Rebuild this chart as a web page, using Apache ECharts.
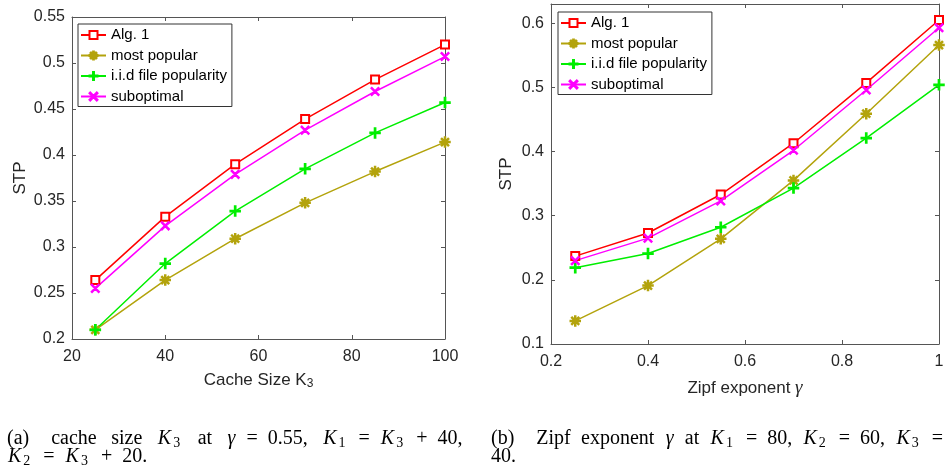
<!DOCTYPE html>
<html>
<head>
<meta charset="utf-8">
<script src="https://cdn.jsdelivr.net/npm/echarts@6/dist/echarts.min.js"></script>
<style>
  html, body { margin: 0; padding: 0; background: #fff; }
  #main { width: 948px; height: 467px; }
</style>
</head>
<body>
<div id="main"></div>
<script>
// (a) STP vs cache size K3
var cacheSize = [25, 40, 55, 70, 85, 100];
var algA     = [0.264, 0.333, 0.390, 0.439, 0.482, 0.520];
var popularA = [0.210, 0.264, 0.309, 0.348, 0.382, 0.414];
var iidA     = [0.210, 0.282, 0.339, 0.385, 0.424, 0.457];
var subA     = [0.255, 0.323, 0.379, 0.427, 0.469, 0.507];

// (b) STP vs Zipf exponent
var zipf     = [0.25, 0.4, 0.55, 0.7, 0.85, 1];
var algB     = [0.237, 0.273, 0.333, 0.413, 0.507, 0.605];
var popularB = [0.136, 0.191, 0.264, 0.355, 0.459, 0.566];
var iidB     = [0.219, 0.241, 0.282, 0.343, 0.421, 0.504];
var subB     = [0.230, 0.265, 0.323, 0.402, 0.496, 0.593];

var names = ['Alg. 1', 'most popular', 'i.i.d file popularity', 'suboptimal'];

var sans = 'Liberation Sans, Arial, sans-serif';
var serif = 'Liberation Serif, Times New Roman, serif';
var axisCol = '#555';
var txtCol = '#262626';

// marker shapes (MATLAB style)
var plusPath = 'path://M44,0L56,0L56,100L44,100ZM0,44L100,44L100,56L0,56Z';
var crossPath = 'path://M9,0L100,91L91,100L0,9ZM91,0L100,9L9,100L0,91Z';
var starPath = 'path://M45,0L55,0L55,100L45,100ZM0,45L100,45L100,55L0,55Z' +
  'M19,12L88,81L81,88L12,19ZM81,12L88,19L19,88L12,81Z';

var styles = [
  { color: '#ff0000', symbol: 'emptyRect', size: 8 },
  { color: '#b3a30c', symbol: starPath, size: 10 },
  { color: '#00ee00', symbol: plusPath, size: 10 },
  { color: '#ff00ff', symbol: crossPath, size: 8 }
];

function pairs(xs, ys) {
  return xs.map(function (x, i) { return [x, ys[i]]; });
}

function makeSeries(xs, list, axisIdx) {
  return list.map(function (ys, k) {
    var st = styles[k];
    return {
      name: names[k],
      type: 'line',
      xAxisIndex: axisIdx,
      yAxisIndex: axisIdx,
      data: pairs(xs, ys),
      symbol: st.symbol,
      symbolSize: st.size,
      showAllSymbol: true,
      lineStyle: { color: st.color, width: 1.5 },
      itemStyle: { color: st.color, borderColor: st.color, borderWidth: 1.5 }
    };
  });
}

function boxAxis(gridIndex, position, min, max, interval) {
  return {
    type: 'value',
    gridIndex: gridIndex,
    position: position,
    min: min,
    max: max,
    interval: interval,
    axisLine: { show: true, onZero: false, lineStyle: { color: axisCol, width: 1 } },
    axisTick: { show: true, inside: true, length: 4, lineStyle: { color: axisCol } },
    axisLabel: { show: false },
    splitLine: { show: false }
  };
}

function mainAxis(gridIndex, position, min, max, interval, extra) {
  var a = boxAxis(gridIndex, position, min, max, interval);
  a.axisLabel = { show: true, fontFamily: sans, fontSize: 16, color: txtCol, margin: position === 'bottom' ? 10 : 7 };
  a.nameLocation = 'middle';
  a.nameTextStyle = { fontFamily: sans, fontSize: 17, color: txtCol };
  for (var k in extra) a[k] = extra[k];
  return a;
}

function legendFor(left, top) {
  return {
    orient: 'vertical',
    left: left,
    top: top,
    data: names,
    itemWidth: 25,
    itemHeight: 10,
    itemGap: 5.5,
    padding: [3.5, 5, 2.5, 2],
    backgroundColor: '#fff',
    borderColor: '#333',
    borderWidth: 1,
    borderRadius: 0,
    selectedMode: false,
    textStyle: { fontFamily: sans, fontSize: 15, color: '#000' }
  };
}

// caption styles: italic math K, subscripts, spaced operators, stretched spaces
var capRich = {
  k: { fontFamily: serif, fontStyle: 'italic', fontSize: 20, lineHeight: 22, padding: [0, 2, 0, 1] },
  g: { fontFamily: serif, fontStyle: 'italic', fontSize: 20, lineHeight: 22, padding: [0, 1, 0, 1] },
  s: { fontFamily: serif, fontSize: 14, lineHeight: 12, verticalAlign: 'bottom', padding: [0, 3, 0, 0] },
  o: { fontFamily: serif, fontSize: 20, lineHeight: 22, padding: [0, 10, 0, 10] },
  q: { width: 22 },
  wa: { width: 14.5 },
  wb: { width: 10.3 }
};

function caption(x, y, text) {
  return {
    type: 'text',
    x: x,
    y: y,
    style: {
      text: text,
      fontFamily: serif,
      fontSize: 20,
      lineHeight: 22,
      fill: '#000',
      textVerticalAlign: 'middle',
      rich: capRich
    }
  };
}

var chart = echarts.init(document.getElementById('main'), null, { renderer: 'canvas' });

chart.setOption({
  animation: false,
  backgroundColor: '#fff',
  grid: [
    { left: 72, top: 17, width: 373, height: 322 },
    { left: 551, top: 4, width: 388, height: 340 }
  ],
  xAxis: [
    mainAxis(0, 'bottom', 20, 100, 20, {
      name: 'Cache Size K{s|3}', nameGap: 31,
      nameTextStyle: { fontFamily: sans, fontSize: 17, color: txtCol, lineHeight: 20,
        rich: { s: { fontFamily: sans, fontSize: 12, lineHeight: 12, verticalAlign: 'bottom', color: txtCol } } }
    }),
    boxAxis(0, 'top', 20, 100, 20),
    mainAxis(1, 'bottom', 0.2, 1, 0.2, {
      name: 'Zipf exponent {g|γ}', nameGap: 34,
      nameTextStyle: { fontFamily: sans, fontSize: 17, color: txtCol, lineHeight: 20,
        rich: { g: { fontFamily: serif, fontStyle: 'italic', fontSize: 19, lineHeight: 20, color: txtCol } } }
    }),
    boxAxis(1, 'top', 0.2, 1, 0.2)
  ],
  yAxis: [
    mainAxis(0, 'left', 0.2, 0.55, 0.05, { name: 'STP', nameGap: 43, nameRotate: 90 }),
    boxAxis(0, 'right', 0.2, 0.55, 0.05),
    mainAxis(1, 'left', 0.1, 0.63, 0.1, { name: 'STP', nameGap: 36, nameRotate: 90 }),
    boxAxis(1, 'right', 0.1, 0.63, 0.1)
  ],
  legend: [legendFor(78, 24), legendFor(558, 12)],
  series: makeSeries(cacheSize, [algA, popularA, iidA, subA], 0)
    .concat(makeSeries(zipf, [algB, popularB, iidB, subB], 2)),
  graphic: [
    caption(7, 439, '(a){q| }cache{wa| }size{wa| }{k|K}{s|3}{wa| }at{wa| }{g|γ}{o|=}0.55,{wa| }{k|K}{s|1}{o|=}{k|K}{s|3}{o|+}40,'),
    caption(7, 457, '{k|K}{s|2}{o|=}{k|K}{s|3}{o|+}20.'),
    caption(491, 439, '(b){q| }Zipf{wb| }exponent{wb| }{g|γ}{wb| }at{wb| }{k|K}{s|1}{o|=}80,{wb| }{k|K}{s|2}{o|=}60,{wb| }{k|K}{s|3}{o|=}'),
    caption(491, 457, '40.')
  ]
});

// hide the extra max label on the right plot's y axis
chart.setOption({ yAxis: [{}, {}, { axisLabel: { showMaxLabel: false } }, {}] });
</script>
</body>
</html>
